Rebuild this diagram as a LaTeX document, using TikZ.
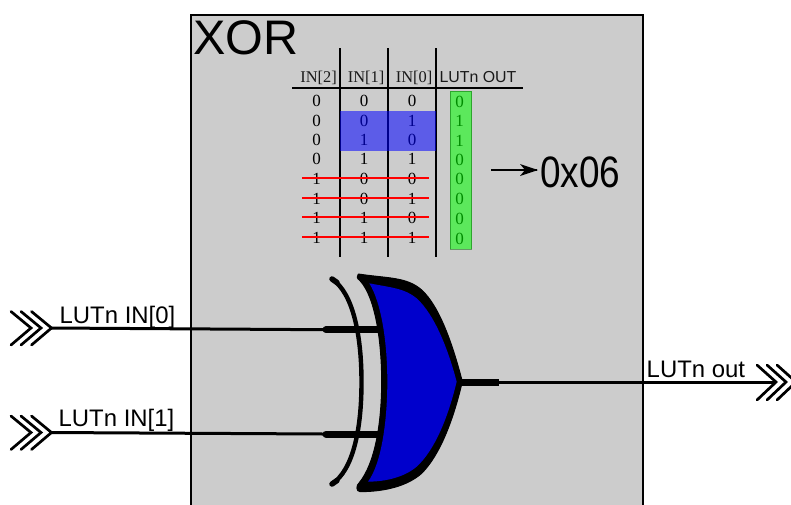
\documentclass[tikz,border=0pt]{standalone}
\usepackage{fontspec}
\setmainfont{Liberation Serif}
\newfontfamily\arialf{Liberation Sans}
\tikzset{
  lab/.style={inner sep=0pt,anchor=base west,font=\arialf\fontsize{23.9}{28}\selectfont,text=black},
  cell/.style={inner sep=0pt,anchor=base,font=\fontsize{17}{18}\selectfont,text=black},
  head/.style={inner sep=0pt,anchor=base,font=\fontsize{16.4}{18}\selectfont,text=black!90},
  rule/.style={draw=black,line width=2pt},
  strike/.style={draw=red,line width=2pt},
  wire/.style={draw=black,line width=3pt},
  stub/.style={draw=black,line width=7pt,line cap=round},
  chev/.style={draw=black,line width=2.7pt,line cap=round,line join=miter},
}
\begin{document}
\begin{tikzpicture}[x=1pt,y=-1pt]
\path[use as bounding box] (0,0) rectangle (791,504);
\clip (0,0) rectangle (791,504);
\fill[white] (0,0) rectangle (791,504);
\draw[fill=black!20,line width=1.5pt] (191,15) rectangle (643,520);
\node[lab,font=\arialf\fontsize{48.5}{52}\selectfont,text=black] (title) at (193,54) {XOR};
% table
\foreach \x/\n in {340/a,388/b,436/c}{
  \coordinate (t\n) at (\x,48);
  \coordinate (e\n) at (\x,257);
  \draw[rule] (t\n) -- (e\n);
}
\coordinate (hl) at (292,88);
\coordinate (hr) at (523,88);
\draw[rule] (hl) -- (hr);
\node[head] (h2) at (318.5,82) {IN[2]};
\node[head] (h1) at (366,82) {IN[1]};
\node[head] (h0) at (414,82) {IN[0]};
\node[head,font=\arialf\fontsize{15.9}{18}\selectfont] (hout) at (478,82.6) {LUTn OUT};
\foreach \y/\p/\q/\r/\s [count=\i] in {
  107/0/0/0/0,126.5/0/0/1/1,146/0/1/0/1,165/0/1/1/0,184.5/1/0/0/0,204.5/1/0/1/0,224/1/1/0/0,244/1/1/1/0}{
  \node[cell] (ca\i) at (316.5,\y-.5) {\p};
  \node[cell] (cb\i) at (364,\y-.5) {\q};
  \node[cell] (cc\i) at (412,\y-.5) {\r};
  \node[cell] (cd\i) at (459.5,\y) {\s};
}
\fill[blue,fill opacity=.55] (340,111) rectangle (435.5,151);
\draw[green!40!black,line width=.6pt,fill=green,fill opacity=.55,draw opacity=.5] (450,91) rectangle (471.5,249);
\foreach \y/\n in {178/1,198/2,217/3,237/4}{
  \coordinate (sl\n) at (302,\y);
  \coordinate (sr\n) at (429,\y);
  \draw[strike] (sl\n) -- (sr\n);
}
\coordinate (ar1) at (491,170);
\coordinate (ar2) at (537,170);
\draw[line width=1.6pt] (ar1) -- (ar2);
\fill (538,170) -- (520,164) -- (525,170) -- (520,176) -- cycle;
\node[inner sep=0pt,anchor=base west,font=\arialf\fontsize{44}{48}\selectfont,transform shape,xscale=.84] (hex) at (540,187.5) {0x06};
% inputs
\foreach \y/\n in {328/i,432.5/j}{
  \foreach \d in {0,10,20.5}{
    \draw[chev] (11+\d,\y-16.5) -- (31+\d,\y) -- (11+\d,\y+17);
  }
}
\coordinate (in0) at (51,328);
\coordinate (g0) at (324,329.7);
\coordinate (in1) at (50,432.5);
\coordinate (g1) at (324,434);
\coordinate (g0b) at (381,329.7);
\coordinate (g1b) at (381,434);
\draw[wire] (in0) -- (g0);
\draw[wire] (in1) -- (g1);
\draw[stub] (g0) ++(2,0) -- (g0b);
\draw[stub] (g1) ++(2,0) -- (g1b);
\node[lab] (l0) at (59.5,323) {LUTn IN[0]};
\node[lab] (l1) at (58.5,426.5) {LUTn IN[1]};
% back arc
\draw[line width=4.4pt,line cap=round] (332,279) .. controls (353,293) and (361.5,335) .. (361.5,382) .. controls (361.5,430) and (353,470) .. (332,484);
\draw[line width=5.5pt,line cap=round] (332,279) -- (337,282.5);
\draw[line width=5.5pt,line cap=round] (332,484) -- (337,480.5);
% gate
\begin{scope}[xshift=300pt,yshift=-260pt,x=.3333pt,y=-.3333pt]
\fill[black,line join=round,draw=black,line width=1pt] (175,42) .. controls (170,48) and (170,55) .. (180,62)
  .. controls (225,110) and (245,240) .. (245,365)
  .. controls (245,490) and (225,610) .. (178,668)
  .. controls (168,675) and (168,695) .. (180,695)
  .. controls (250,695) and (320,680) .. (365,640)
  .. controls (420,585) and (460,480) .. (487,365)
  .. controls (460,260) and (420,140) .. (365,90)
  .. controls (320,50) and (260,55) .. (175,42) -- cycle;
\fill[fill=blue!80!black] (208,70)
  .. controls (245,130) and (262,250) .. (262,365)
  .. controls (262,480) and (245,610) .. (204,665)
  .. controls (260,665) and (315,650) .. (350,620)
  .. controls (405,570) and (445,470) .. (470,365)
  .. controls (445,270) and (405,165) .. (350,115)
  .. controls (315,85) and (270,82) .. (208,70) -- cycle;
\end{scope}
% output
\coordinate (go) at (461,382);
\coordinate (gs) at (499,382);
\coordinate (out) at (775,382);
\draw[wire] (go) -- (out);
\draw[draw=black,line width=7pt] (go) -- (gs);
\foreach \d in {0,10,20}{
  \draw[chev] (757+\d,365) -- (776+\d,382) -- (757+\d,400);
}
\node[lab] (lo) at (646.5,377) {LUTn out};
\end{tikzpicture}
\end{document}
